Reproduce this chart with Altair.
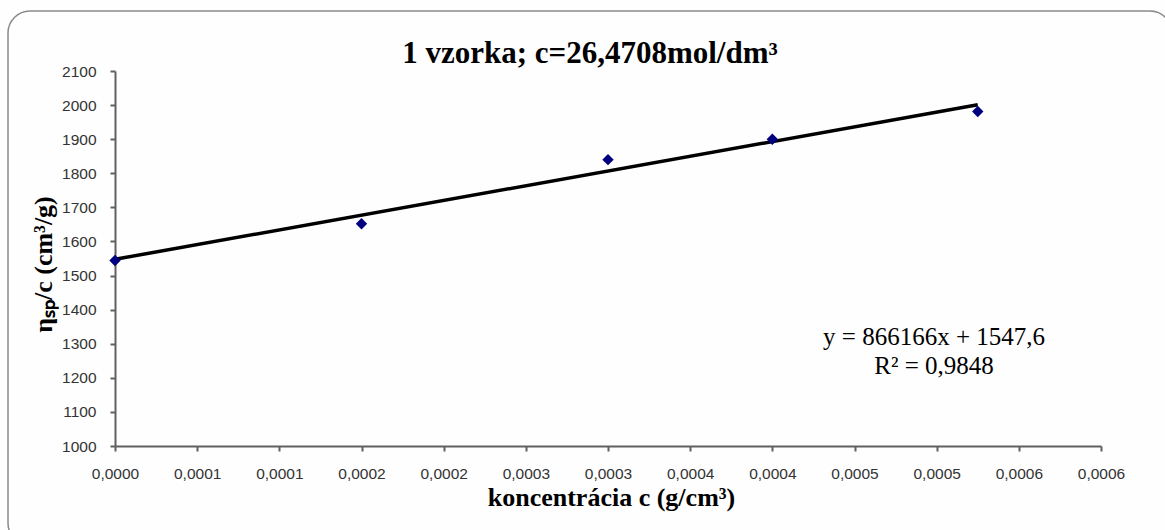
import altair as alt
import pandas as pd

# data
x_vals = [0.0, 0.00015, 0.0003, 0.0004, 0.000525]
y_vals = [1544, 1652, 1840, 1900, 1981]
trend_x = [0.0, 0.000525]
trend_y = [1547.6, 2001.0]
x_ticks = [0.0, 0.00005, 0.0001, 0.00015, 0.0002, 0.00025, 0.0003,
           0.00035, 0.0004, 0.00045, 0.0005, 0.00055, 0.0006]
x_tick_labels = ["0,0000", "0,0001", "0,0001", "0,0002", "0,0002", "0,0003", "0,0003",
                 "0,0004", "0,0004", "0,0005", "0,0005", "0,0006", "0,0006"]
y_ticks = [1000, 1100, 1200, 1300, 1400, 1500, 1600, 1700, 1800, 1900, 2000, 2100]
title_text = "1 vzorka; c=26,4708mol/dm³"
x_title = "koncentrácia c (g/cm³)"
y_title = "ηₛₚ/c (cm³/g)"
eq_text = "y = 866166x + 1547,6\nR² = 0,9848"

W, H = 986, 375
PL, PT, PR, PB = 115, 71, 64, 84

pts = pd.DataFrame({"x": x_vals, "y": y_vals})
trend = pd.DataFrame({"x": trend_x, "y": trend_y})
one = pd.DataFrame({"a": [0]})

label_arr = "[" + ",".join("'" + s + "'" for s in x_tick_labels) + "]"

xscale = alt.Scale(domain=[0, 0.0006], nice=False, zero=False)
yscale = alt.Scale(domain=[1000, 2100], nice=False, zero=False)

xaxis = alt.Axis(values=x_ticks, labelExpr=label_arr + "[round(datum.value/0.00005)]",
                 title=x_title, grid=False, tickSize=5, labelPadding=15,
                 labelFlush=False, labelOverlap=False,
                 titleX=496, titleY=59, titleBaseline="alphabetic")
yaxis = alt.Axis(values=y_ticks, format="d", title=y_title, grid=False, tickSize=5,
                 labelPadding=14, labelOverlap=False, labelFlush=False,
                 titleX=-64, titleY=193, titleAngle=270, titleBaseline="alphabetic",
                 titleAlign="center")

border = alt.Chart(one).mark_rect(
    cornerRadius=22, fillOpacity=0, stroke="#8a8a8a", strokeWidth=1.5
).encode(
    x=alt.value(8 - PL), x2=alt.value(1172 - PL),
    y=alt.value(11 - PT), y2=alt.value(545 - PT)
)

line = alt.Chart(trend).mark_line(color="black", strokeWidth=3.5).encode(
    x=alt.X("x:Q", scale=xscale, axis=xaxis),
    y=alt.Y("y:Q", scale=yscale, axis=yaxis),
)

points = alt.Chart(pts).mark_point(
    shape="diamond", filled=True, color="#000080", size=130, opacity=1
).encode(
    x=alt.X("x:Q", scale=xscale, axis=xaxis),
    y=alt.Y("y:Q", scale=yscale, axis=yaxis),
)

eq = alt.Chart(one).mark_text(
    text=eq_text, lineBreak="\n", lineHeight=29, font="Liberation Serif",
    fontSize=25, align="center", baseline="alphabetic", color="black"
).encode(x=alt.value(934 - PL), y=alt.value(345 - PT))

title = alt.Chart(one).mark_text(
    text=title_text, font="Liberation Serif", fontSize=31, fontWeight="bold",
    align="center", baseline="alphabetic", color="black"
).encode(x=alt.value(590 - PL), y=alt.value(63 - PT))

chart = alt.layer(border, line, points, eq, title).properties(
    width=W, height=H,
    padding={"left": PL, "top": PT, "right": PR, "bottom": PB},
    autosize=alt.AutoSizeParams(type="none"),
    background="#fefefe",
).configure_view(stroke=None).configure_axis(
    domainColor="#606060", domainWidth=2, tickColor="#606060", tickWidth=2,
    labelFont="Liberation Sans", labelFontSize=15.5, labelColor="#333333",
    titleFont="Liberation Serif", titleFontSize=26, titleFontWeight="bold",
    titleColor="black"
)

chart.save("out.html", embed_options={"renderer": "svg", "actions": False})
